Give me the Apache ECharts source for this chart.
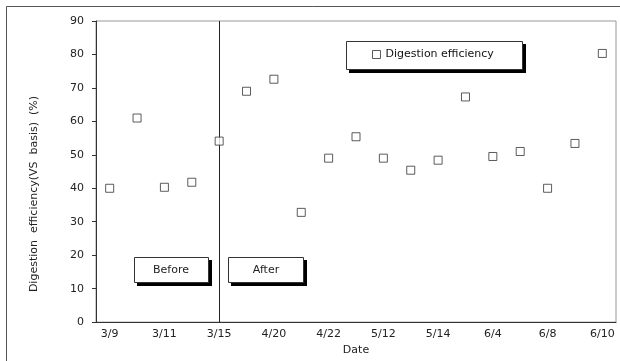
<!DOCTYPE html>
<html><head><meta charset="utf-8">
<script src="https://cdn.jsdelivr.net/npm/echarts@6/dist/echarts.min.js"></script>
<style>html,body{margin:0;padding:0;background:#fff}#c{width:620px;height:361px}</style>
</head><body><div id="c"></div>
<script>
const categories = ['3/9','','3/11','','3/15','','4/20','','4/22','','5/12','','5/14','','6/4','','6/8','','6/10'];
const digestionEfficiency = [40.0, 61.0, 40.3, 41.8, 54.1, 69.0, 72.6, 32.8, 49.0, 55.4, 49.0, 45.4, 48.4, 67.3, 49.5, 51.0, 40.0, 53.4, 80.3];
const yTicks = {min: 0, max: 90, interval: 10};
const dividerCategory = 4;
const seriesName = 'Digestion efficiency';
const yName = 'Digestion  efficiency(VS  basis)  (%)';
const xName = 'Date';

const FONT = 'DejaVu Sans';
const chart = echarts.init(document.getElementById('c'), null, {renderer: 'canvas'});
function box(x, y, w, h) {
  return [
    {type: 'rect', silent: true, z: 1, shape: {x: x + 3, y: y + 3, width: w + 1, height: h + 1}, style: {fill: '#000'}},
    {type: 'rect', silent: true, z: 2, shape: {x: x + 0.5, y: y + 0.5, width: w, height: h}, style: {fill: '#fff', stroke: '#333', lineWidth: 1}}
  ];
}
chart.setOption({
  animation: false,
  backgroundColor: '#fff',
  grid: {left: 96, right: 4, top: 21, bottom: 35, show: true, borderColor: '#999', borderWidth: 1},
  legend: {
    left: 372, top: 49, padding: 0, itemWidth: 8, itemHeight: 8, icon: 'rect',
    itemStyle: {color: '#fff', borderColor: '#333', borderWidth: 1},
    textStyle: {fontFamily: FONT, fontSize: 11, color: '#111'},
    data: [seriesName]
  },
  xAxis: {
    type: 'category', data: categories, boundaryGap: true,
    name: xName, nameLocation: 'middle', nameGap: 22,
    nameTextStyle: {fontFamily: FONT, fontSize: 11, color: '#222'},
    axisLine: {lineStyle: {color: '#333', width: 1}},
    axisTick: {inside: true, length: 3, interval: 0, lineStyle: {color: '#333'}},
    axisLabel: {interval: 0, margin: 7, fontFamily: FONT, fontSize: 11, color: '#222'},
    splitLine: {show: false}
  },
  yAxis: {
    type: 'value', min: yTicks.min, max: yTicks.max, interval: yTicks.interval,
    axisLine: {show: true, lineStyle: {color: '#333', width: 1}},
    axisTick: {show: true, length: 4, lineStyle: {color: '#333'}},
    axisLabel: {margin: 12, fontFamily: FONT, fontSize: 11, color: '#222'},
    splitLine: {show: false}
  },
  graphic: [
    {type: 'rect', silent: true, shape: {x: 6.5, y: 6.5, width: 700, height: 400}, style: {fill: 'none', stroke: '#555', lineWidth: 1}},
    ...box(346, 41, 176, 28),
    ...box(134, 257, 74, 25),
    ...box(228, 257, 75, 25),
    {type: 'text', silent: true, z: 10, style: {text: 'Before', x: 171, y: 270, textAlign: 'center', textVerticalAlign: 'middle', font: '11px "DejaVu Sans"', fill: '#222'}},
    {type: 'text', silent: true, z: 10, style: {text: 'After', x: 266, y: 270, textAlign: 'center', textVerticalAlign: 'middle', font: '11px "DejaVu Sans"', fill: '#222'}},
    {type: 'text', silent: true, z: 10, x: 34, y: 194, rotation: Math.PI / 2, style: {text: yName, x: 0, y: 0, textAlign: 'center', textVerticalAlign: 'middle', font: '11px "DejaVu Sans"', fill: '#222'}}
  ],
  series: [{
    name: seriesName, type: 'scatter', data: digestionEfficiency,
    symbol: 'rect', symbolSize: 8,
    itemStyle: {color: '#fff', borderColor: '#333', borderWidth: 1},
    markLine: {
      silent: true, symbol: 'none', label: {show: false},
      lineStyle: {color: '#222', width: 1, type: 'solid'},
      data: [{xAxis: dividerCategory}]
    },
    z: 5
  }]
});
</script></body></html>
